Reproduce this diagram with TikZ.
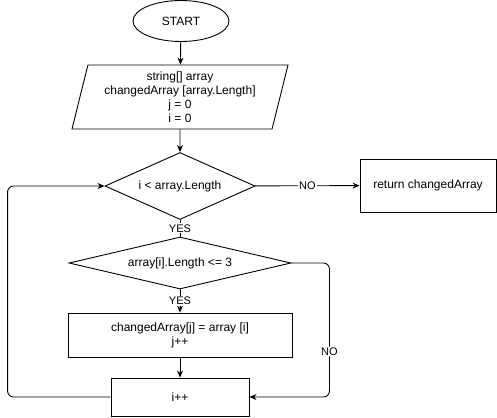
\documentclass[tikz,border=0pt]{standalone}
\usepackage{fontspec}
\setmainfont{Liberation Sans}
\usetikzlibrary{arrows.meta,positioning,shapes.geometric}

\begin{document}
\begin{tikzpicture}[
  x=1pt, y=-1pt,
  >={Stealth[length=7pt,width=6pt]},
  line width=0.9pt,
  font=\fontsize{12}{14}\selectfont,
  term/.style={ellipse, draw, minimum width=96pt, minimum height=41pt, inner sep=0pt},
  io/.style={trapezium, trapezium left angle=72.6, trapezium right angle=107.4,
    trapezium stretches body, draw, minimum width=216pt, minimum height=64pt,
    inner sep=0pt, align=center},
  dec/.style={diamond, draw, aspect=3, inner sep=0pt},
  proc/.style={rectangle, draw, inner sep=0pt, align=center},
  lbl/.style={fill=white, inner sep=1pt, font=\fontsize{11}{13}\selectfont}]
  \useasboundingbox (0,0) rectangle (497,417);
  \node[term] (start) at (181,21) {START};
  \node[io] (init) at (180,97) {string[] array\\changedArray [array.Length]\\j = 0\\i = 0};
  \node[dec, minimum width=150pt, minimum height=67pt] (cond) at (180,186) {i < array.Length};
  \node[proc, minimum width=136pt, minimum height=53pt] (ret) at (428,185.5) {return changedArray};
  \node[dec, minimum width=222pt, minimum height=52pt] (test) at (180,263) {array[i].Length <= 3};
  \node[proc, minimum width=224pt, minimum height=44pt] (body) at (180,335) {changedArray[j] = array [i]\\j++};
  \node[proc, minimum width=138pt, minimum height=38pt] (inc) at (180,397) {i++};
  \draw[->] (start) -- (init);
  \draw[->] (init) -- (cond);
  \draw[->] (cond) -- node[lbl] {NO} (ret);
  \draw (cond) -- node[lbl] {YES} (test);
  \draw[->] (test) -- node[lbl] {YES} (body);
  \draw[->] (body) -- (inc);
  \draw[->, rounded corners=6pt] (test.east) -- ++(38,0) |- node[lbl, pos=0.33] {NO} (inc.east);
  \draw[->, rounded corners=6pt] (inc.west) -- ++(-103,0) |- (cond.west);
\end{tikzpicture}
\end{document}
